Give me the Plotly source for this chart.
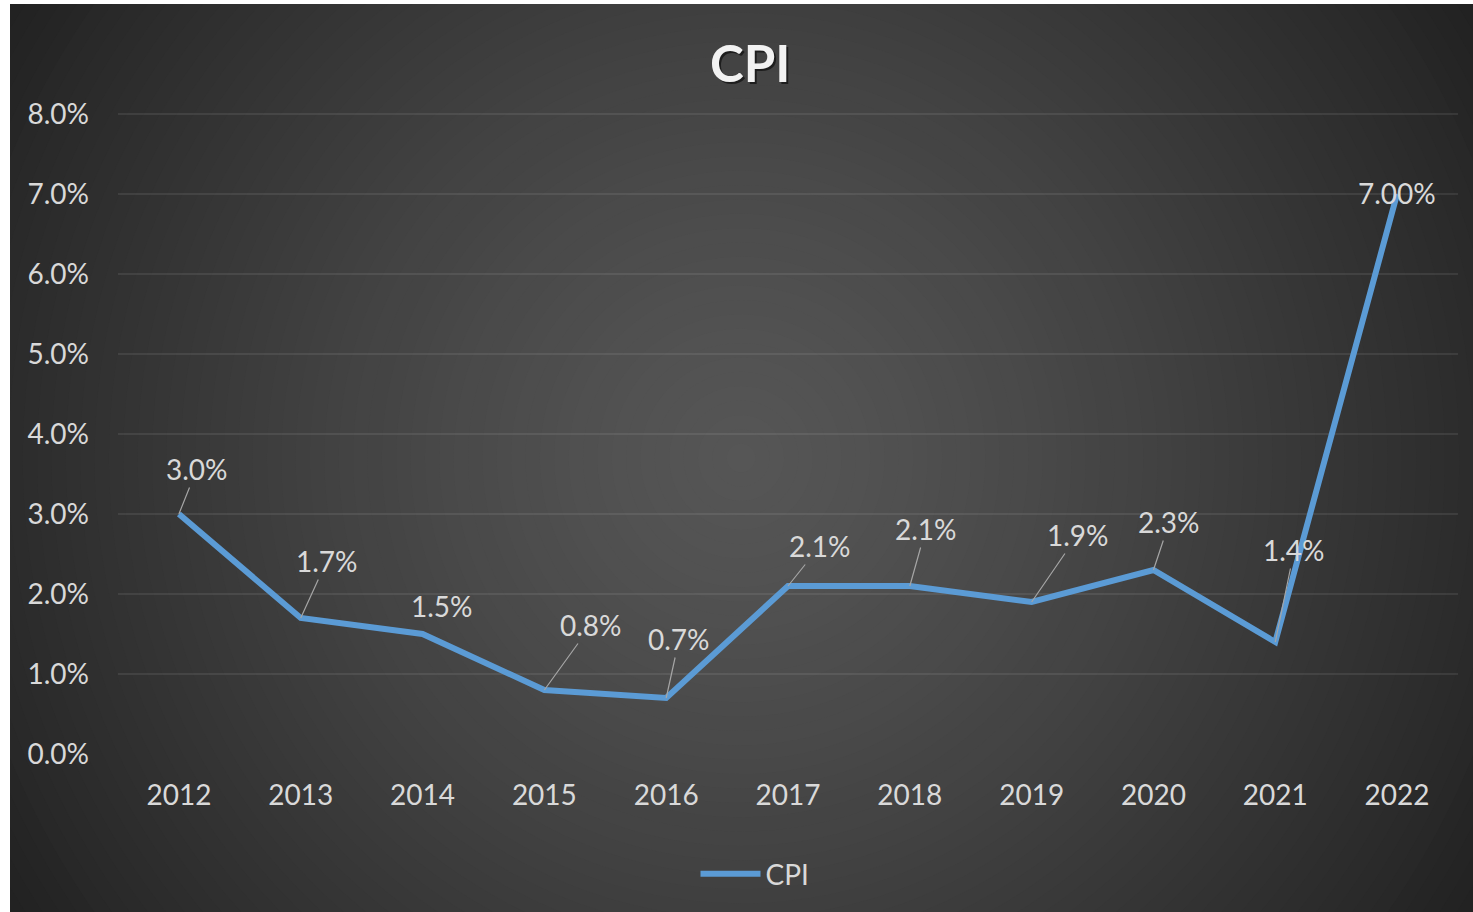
import plotly.graph_objects as go

# ---- data ----
years = ["2012", "2013", "2014", "2015", "2016", "2017", "2018", "2019", "2020", "2021", "2022"]
cpi = [0.030, 0.017, 0.015, 0.008, 0.007, 0.021, 0.021, 0.019, 0.023, 0.014, 0.070]
cpi_labels = ["3.0%", "1.7%", "1.5%", "0.8%", "0.7%", "2.1%", "2.1%", "1.9%", "2.3%", "1.4%", "7.00%"]
y_ticks = [0.0, 0.01, 0.02, 0.03, 0.04, 0.05, 0.06, 0.07, 0.08]

# ---- label placement (pixel offsets of label centre from point) ----
label_dx = [18, 26, 19, 47, 13, 32, 16, 46, 16, 19, 0]
label_dy = [-45, -57, -28, -65, -59, -40, -57, -67, -48, -92, -1]
leader = [True, True, False, True, True, True, True, True, True, True, False]

W, H = 1473, 912
ML, MR, MT, MB = 118, 15, 112, 158
PW, PH = W - ML - MR, H - MT - MB
Y_TOP = 0.08 * PH / 640.0  # keep 80 px per 1%


def px(x):
    return (x - ML) / PW


def py(y):
    return (H - MB - y) / PH


FONT = "Lato"
TXT = "#d9d9d9"
FS = 28

fig = go.Figure()
fig.add_trace(go.Scatter(
    x=years, y=cpi, mode="lines", name="CPI",
    line=dict(color="#5b9bd5", width=6, shape="linear"),
    hoverinfo="skip",
))

shapes = []
shapes.append(dict(type="rect", xref="paper", yref="paper", x0=px(10), x1=px(W), y0=py(H), y1=py(4),
                   fillcolor="#222222", line=dict(width=0), layer="below"))
cx, cy = 741, 458
R = 862
N = 60
for i in range(N):
    t = 1 - i / N
    v = 86 - 52 * (t ** 1.3)
    r = R * t
    c = int(round(v))
    shapes.append(dict(type="circle", xref="paper", yref="paper",
                       x0=px(cx - r), x1=px(cx + r), y0=py(cy + r), y1=py(cy - r),
                       fillcolor=f"rgb({c},{c},{c})", line=dict(width=0), layer="below"))
shapes.append(dict(type="rect", xref="paper", yref="paper", x0=px(0), x1=px(10), y0=py(H), y1=py(0),
                   fillcolor="white", line=dict(width=0), layer="below"))
shapes.append(dict(type="rect", xref="paper", yref="paper", x0=px(0), x1=px(W), y0=py(4), y1=py(0),
                   fillcolor="white", line=dict(width=0), layer="below"))

for i, (yr, v, lab, dx, dy, ld) in enumerate(zip(years, cpi, cpi_labels, label_dx, label_dy, leader)):
    fig.add_annotation(
        x=i, y=v, xref="x", yref="y", text=lab, showarrow=True,
        ax=dx, ay=dy,
        arrowhead=0, arrowwidth=1.2, standoff=0,
        arrowcolor="#a6a6a6" if ld else "rgba(0,0,0,0)",
        font=dict(family=FONT, size=FS, color=TXT),
    )

fig.add_annotation(text="<b>CPI</b>", xref="paper", yref="paper", x=px(750), y=py(62),
                   xanchor="center", yanchor="middle", showarrow=False, xshift=2, yshift=-2,
                   font=dict(family=FONT, size=51, color="rgba(0,0,0,0.55)"))
fig.add_annotation(text="<b>CPI</b>", xref="paper", yref="paper", x=px(750), y=py(62),
                   xanchor="center", yanchor="middle", showarrow=False,
                   font=dict(family=FONT, size=51, color="#f2f2f2"))

fig.update_layout(
    width=W, height=H,
    margin=dict(l=ML, r=MR, t=MT, b=MB, pad=0),
    paper_bgcolor="white",
    plot_bgcolor="rgba(0,0,0,0)",
    shapes=shapes,
    showlegend=True,
    legend=dict(orientation="h", x=px(755), xanchor="center", y=py(874), yanchor="middle",
                font=dict(family=FONT, size=FS, color=TXT), bgcolor="rgba(0,0,0,0)",
                itemwidth=60),
    xaxis=dict(type="category", range=[-0.5, 10.5], showgrid=False, zeroline=False, showline=False,
               ticks="", ticklabelstandoff=22,
               tickfont=dict(family=FONT, size=FS, color=TXT), fixedrange=True),
    yaxis=dict(range=[0, Y_TOP], tickvals=y_ticks, tickformat=".1%", showgrid=True,
               gridcolor="rgba(217,217,217,0.10)", gridwidth=2, zeroline=False, showline=False,
               ticks="", ticklabelstandoff=28,
               tickfont=dict(family=FONT, size=FS, color=TXT), fixedrange=True),
    font=dict(family=FONT, color=TXT),
)

fig.write_html("out.html")
